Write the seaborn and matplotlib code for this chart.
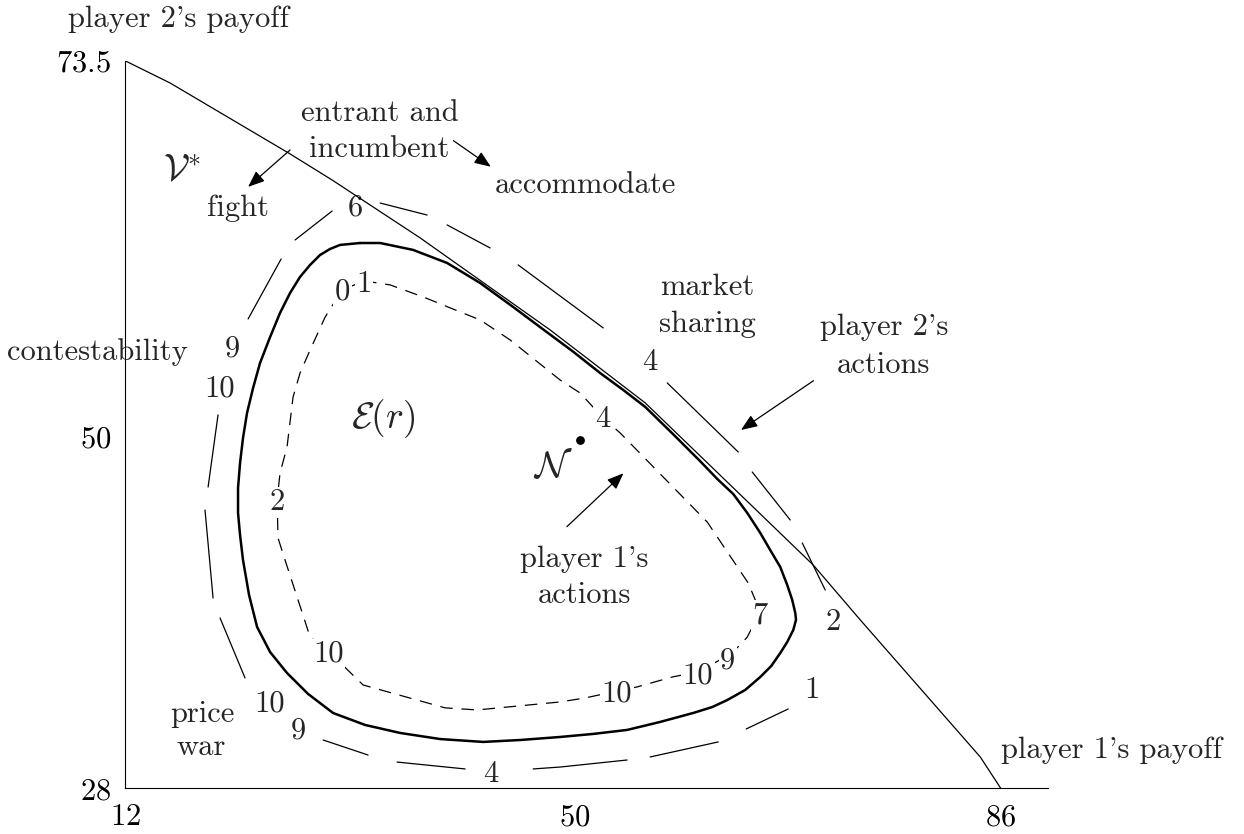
import matplotlib
matplotlib.use("Agg")
import matplotlib.pyplot as plt
import pandas as pd
import seaborn as sns

# payoff frontier (thin solid)
front_x = [12.0, 15.80, 25.95, 29.50, 36.94, 47.93, 55.96, 70.16, 74.13, 84.27, 86.0]
front_y = [73.5, 72.11, 67.67, 66.04, 62.42, 56.66, 52.10, 41.96, 38.53, 29.96, 28.0]

# boundary of E(r) (thick closed curve)
eq_x = [31.86, 33.56, 36.34, 39.22, 42.01, 44.80, 47.33, 49.79, 52.15, 54.10, 55.96,
        58.24, 60.61, 62.04, 63.40, 64.58, 65.68, 66.52, 67.37, 67.96, 68.38, 68.64,
        68.70, 68.47, 67.96, 67.37, 66.61, 65.68, 64.41, 62.89, 61.62, 60.01, 57.22,
        54.43, 51.56, 48.77, 45.39, 42.26, 38.63, 35.25, 32.29, 29.58, 27.47, 25.69,
        24.26, 23.16, 22.48, 21.97, 21.72, 21.55, 21.55, 21.72, 21.97, 22.31, 22.82,
        23.41, 24.26, 25.10, 25.95, 26.79, 27.64, 28.48, 29.33, 30.17, 31.86]
eq_y = [62.10, 62.10, 61.67, 60.85, 59.60, 58.10, 56.70, 55.35, 53.97, 52.91, 51.85,
        50.20, 48.45, 47.35, 46.40, 45.22, 43.97, 42.90, 41.84, 40.71, 39.78, 38.96,
        38.53, 37.90, 37.15, 36.46, 35.65, 34.96, 34.15, 33.52, 33.08, 32.71, 32.15,
        31.65, 31.40, 31.21, 31.02, 30.90, 31.08, 31.46, 31.96, 32.71, 33.90, 35.21,
        36.52, 38.09, 40.09, 42.28, 43.84, 45.22, 46.78, 48.34, 49.91, 51.47, 53.03,
        54.60, 56.22, 57.73, 58.98, 59.98, 60.73, 61.35, 61.73, 61.98, 62.10]

# outer long-dashed curve, one segment id per dash
outer_x = [33.56, 37.53, 39.22, 42.85, 45.22, 52.41, 57.82, 63.82, 65.00, 68.21,
           69.23, 71.17, 68.04, 64.49, 62.13, 56.38, 54.43, 48.77, 46.49, 40.74,
           34.99, 32.54, 28.74, 22.14, 20.03, 19.44, 18.76, 19.02, 19.86, 22.40,
           25.19, 26.37, 29.50]
outer_y = [64.60, 63.85, 63.23, 61.79, 60.73, 56.79, 53.35, 49.03, 47.78, 44.78,
           43.34, 40.40, 32.96, 31.71, 30.90, 29.96, 29.77, 29.33, 29.21, 29.21,
           29.64, 30.08, 31.02, 34.90, 38.65, 39.90, 45.40, 46.84, 51.35, 57.35,
           61.10, 62.29, 64.10]
outer_seg = [1, 1, 2, 2, 3, 3, 4, 4, 5, 5, 6, 6, 7, 7, 8, 8, 9, 9, 9, 10,
             10, 11, 11, 12, 12, 13, 13, 14, 14, 15, 15, 16, 16]

# inner dashed curve
inner_x = [32.20, 34.40, 37.19, 40.32, 42.01, 44.54, 48.77, 50.46, 52.32, 53.84,
           61.20, 64.66, 65.68, 64.58, 63.99, 62.89, 60.35, 58.24, 55.28, 53.59,
           50.88, 48.77, 41.76, 39.05, 32.12, 29.16, 27.64, 25.52, 24.93, 24.85,
           25.10, 25.69, 26.20, 26.79, 27.64, 28.91, 30.34, 32.20]
inner_y = [59.73, 59.48, 58.73, 57.79, 57.29, 56.04, 53.53, 52.72, 51.22, 50.22,
           44.65, 40.84, 39.03, 37.46, 36.96, 36.27, 35.27, 34.96, 34.34, 34.08,
           33.65, 33.40, 32.90, 33.03, 34.46, 36.59, 37.46, 42.28, 43.65, 46.03,
           47.72, 49.34, 52.47, 53.97, 55.41, 57.47, 59.16, 59.73]

# period labels on the curves
outer_lab = ["6", "4", "2", "1", "4", "9", "10", "10", "9"]
outer_lab_x = [31.44, 56.34, 71.85, 70.04, 42.92, 26.65, 24.26, 19.96, 21.09]
outer_lab_y = [63.85, 54.16, 37.90, 33.63, 28.41, 31.13, 32.79, 52.49, 54.99]

inner_lab = ["0", "1", "4", "7", "9", "10", "10", "10", "2"]
inner_lab_x = [30.39, 32.20, 52.36, 65.68, 62.93, 60.39, 53.56, 29.19, 24.82]
inner_lab_y = [58.54, 59.06, 50.61, 38.32, 35.50, 34.57, 33.42, 35.92, 45.40]

nash_x = [50.46]
nash_y = [49.78]

x_ticks = [12, 50, 86]
y_ticks = [28, 50, 73.5]
x_tick_labels = ["$12$", "$50$", "$86$"]
y_tick_labels = ["$28$", "$50$", "$73.5$"]

sns.set_theme(style="white")
plt.rcParams["font.family"] = ["cmr10", "DejaVu Serif"]
plt.rcParams["mathtext.fontset"] = "cm"
plt.rcParams["axes.unicode_minus"] = False
plt.rcParams["axes.formatter.use_mathtext"] = True

fs = 22
ms = 27
fig = plt.figure(figsize=(12.44, 8.34), dpi=100)
ax = fig.add_axes([0.1005, 0.0548, 0.742, 0.8724])

sns.lineplot(x=front_x, y=front_y, sort=False, estimator=None, color="black",
             lw=0.9, ax=ax, zorder=4)
sns.lineplot(x=eq_x, y=eq_y, sort=False, estimator=None, color="black",
             lw=1.8, ax=ax, zorder=4)
df_outer = pd.DataFrame({"x": outer_x, "y": outer_y, "seg": outer_seg})
sns.lineplot(data=df_outer, x="x", y="y", units="seg", estimator=None, sort=False,
             color="black", lw=0.9, ax=ax, zorder=2)
sns.lineplot(x=inner_x, y=inner_y, sort=False, estimator=None, color="black",
             lw=0.9, linestyle=(0, (10, 7)), ax=ax, zorder=2)
sns.scatterplot(x=nash_x, y=nash_y, s=40, color="black", linewidth=0, ax=ax, zorder=5)

for t, x, y in zip(outer_lab, outer_lab_x, outer_lab_y):
    ax.text(x, y, t, fontsize=fs, ha="center", va="baseline", zorder=3)
for t, x, y in zip(inner_lab, inner_lab_x, inner_lab_y):
    ax.text(x, y, t, fontsize=fs, ha="center", va="baseline", zorder=3,
            bbox=dict(facecolor="white", edgecolor="none", pad=1.0))

# annotations
ax.text(16.48, 75.61, "player 2's payoff", fontsize=fs, ha="center", va="baseline")
ax.text(86.0, 29.88, "player 1's payoff", fontsize=fs, ha="left", va="baseline")
ax.text(33.56, 69.76, "entrant and", fontsize=fs, ha="center", va="baseline")
ax.text(33.47, 67.45, "incumbent", fontsize=fs, ha="center", va="baseline")
ax.text(50.88, 65.25, "accommodate", fontsize=fs, ha="center", va="baseline")
ax.text(21.55, 63.79, "fight", fontsize=fs, ha="center", va="baseline")
ax.text(9.68, 54.79, "contestability", fontsize=fs, ha="center", va="baseline")
ax.text(61.16, 58.85, "market", fontsize=fs, ha="center", va="baseline")
ax.text(61.24, 56.54, "sharing", fontsize=fs, ha="center", va="baseline")
ax.text(76.12, 56.35, "player 2's", fontsize=fs, ha="center", va="baseline")
ax.text(76.12, 53.97, "actions", fontsize=fs, ha="center", va="baseline")
ax.text(50.80, 41.86, "player 1's", fontsize=fs, ha="center", va="baseline")
ax.text(50.84, 39.57, "actions", fontsize=fs, ha="center", va="baseline")
ax.text(18.55, 32.17, "price", fontsize=fs, ha="center", va="baseline")
ax.text(18.47, 30.08, "war", fontsize=fs, ha="center", va="baseline")
ax.text(16.78, 65.92, r"$\mathcal{V}^{*}$", fontsize=ms, ha="center", va="baseline")
ax.text(33.85, 50.53, r"$\mathcal{E}(r)$", fontsize=ms, ha="center", va="baseline")
ax.text(48.18, 47.47, r"$\mathcal{N}$", fontsize=ms, ha="center", va="baseline")

arrow = dict(arrowstyle="-|>,head_length=0.5,head_width=0.2", mutation_scale=20,
             color="black", lw=0.9, shrinkA=0, shrinkB=0)
ax.annotate("", xy=(22.40, 65.61), xytext=(25.95, 67.92), arrowprops=arrow)
ax.annotate("", xy=(42.91, 66.87), xytext=(39.75, 68.50), arrowprops=arrow)
ax.annotate("", xy=(64.05, 50.41), xytext=(70.18, 53.49), arrowprops=arrow)
ax.annotate("", xy=(54.12, 47.70), xytext=(49.34, 44.36), arrowprops=arrow)

ax.set_xlim(12, 90)
ax.set_ylim(28, 73.5)
ax.set_xticks(x_ticks)
ax.set_xticklabels(x_tick_labels)
ax.set_yticks(y_ticks)
ax.set_yticklabels(y_tick_labels)
ax.tick_params(axis="both", direction="in", length=7, width=0.8, labelsize=fs,
               colors="black")
ax.tick_params(axis="x", pad=11)
ax.tick_params(axis="y", pad=10)
ax.set_xlabel("")
ax.set_ylabel("")
for side in ["top", "right"]:
    ax.spines[side].set_visible(False)
for side in ["left", "bottom"]:
    ax.spines[side].set_linewidth(0.8)
    ax.spines[side].set_color("black")
ax.set_facecolor("white")

fig.savefig("out.png", dpi=100, facecolor="white")
